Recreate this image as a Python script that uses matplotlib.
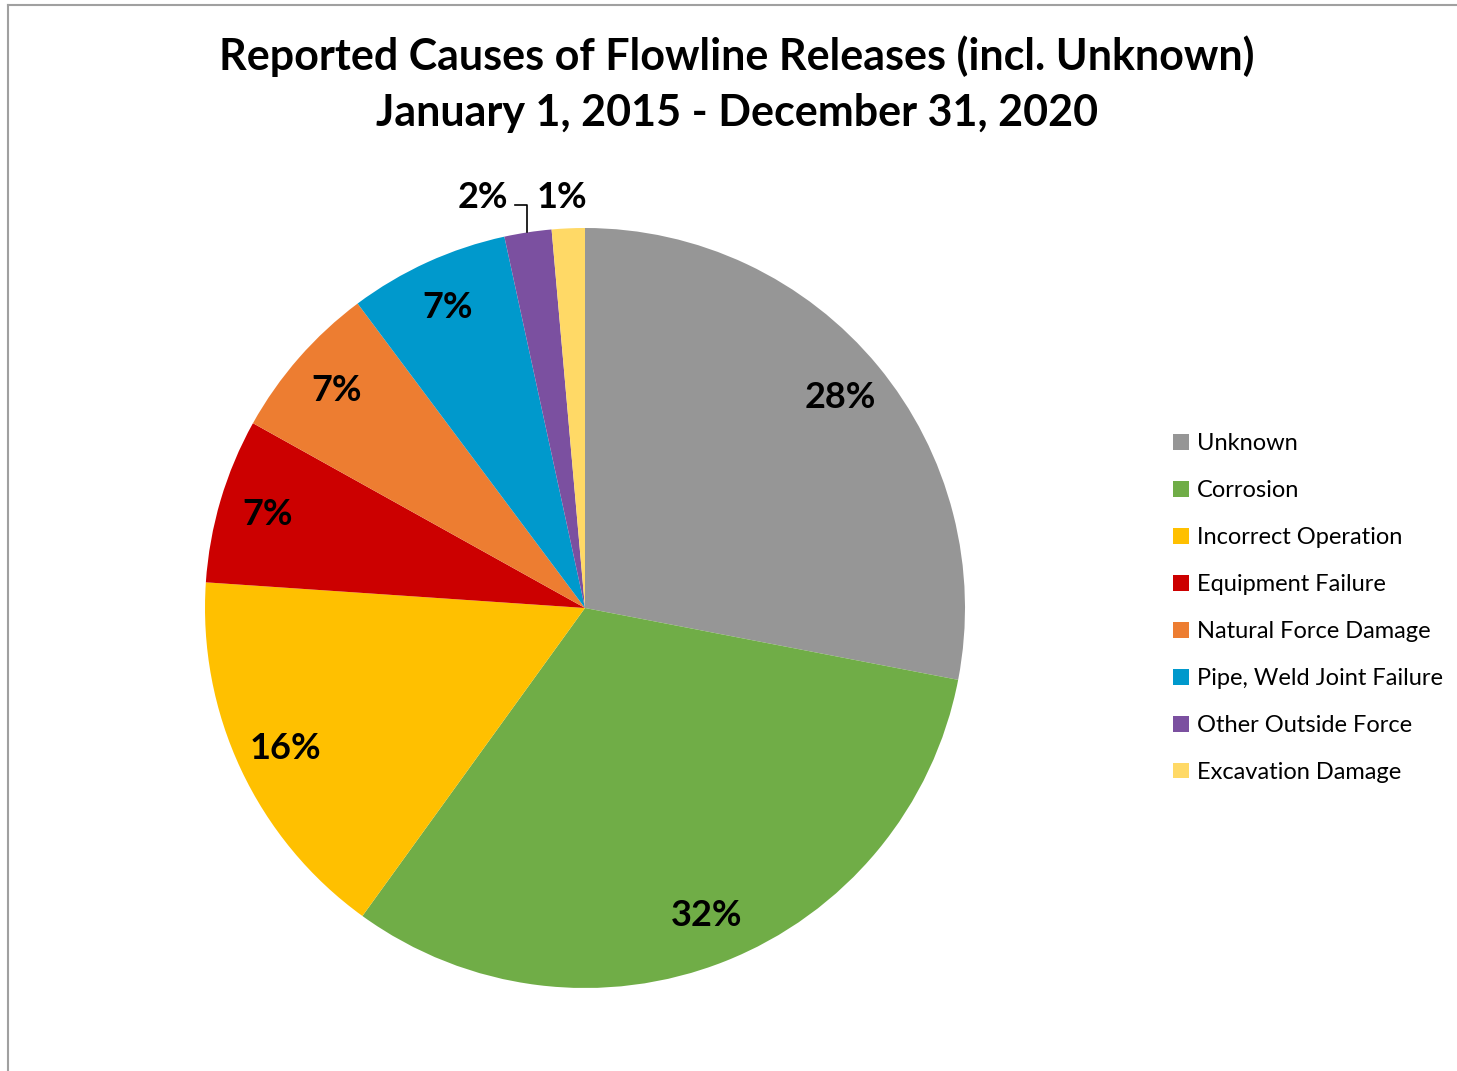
import matplotlib.pyplot as plt
from matplotlib.lines import Line2D
import numpy as np

causes = ["Unknown", "Corrosion", "Incorrect Operation", "Equipment Failure",
          "Natural Force Damage", "Pipe, Weld Joint Failure",
          "Other Outside Force", "Excavation Damage"]
shares = [28.0, 31.9, 16.1, 7.0, 6.7, 6.8, 2.0, 1.4]
colors = ["#969696", "#70ad47", "#ffc000", "#cc0000",
          "#ed7d31", "#0099cc", "#7b50a0", "#ffd966"]
title = "Reported Causes of Flowline Releases (incl. Unknown)\nJanuary 1, 2015 - December 31, 2020"

W, H = 1457, 1071
fig = plt.figure(figsize=(W / 100, H / 100), dpi=100)
plt.rcParams['font.family'] = ['Lato', 'DejaVu Sans']

# frame lines (left and top)
fig.add_artist(Line2D([8 / W, 8 / W], [0, 1 - 5 / H], color="#a0a0a0", lw=1.5))
fig.add_artist(Line2D([8 / W, 1], [1 - 5 / H, 1 - 5 / H], color="#a0a0a0", lw=1.5))

fig.text(737 / W, 1 - 84 / H, title, ha="center", va="center",
         fontsize=31, fontweight="bold", linespacing=1.5)

cx, cy, r = 585, 608, 380
ax = fig.add_axes([(cx - r) / W, 1 - (cy + r) / H, 2 * r / W, 2 * r / H])
wedges, _ = ax.pie(shares, colors=colors, startangle=90, counterclock=False,
                   wedgeprops=dict(linewidth=0))
ax.set_xlim(-1, 1)
ax.set_ylim(-1, 1)
ax.set_aspect("equal")

for i, (w, s) in enumerate(zip(wedges, shares)):
    mid = np.deg2rad((w.theta1 + w.theta2) / 2)
    txt = "%d%%" % round(s)
    if i < 6:
        d = 0.87
        ax.text(d * np.cos(mid), d * np.sin(mid), txt, ha="center", va="center",
                fontsize=26, fontweight="bold")

# small slices labelled outside
ax.text(-0.27, 1.08, "2%", ha="center", va="center", fontsize=26, fontweight="bold", clip_on=False)
ax.text(-0.06, 1.08, "1%", ha="center", va="center", fontsize=26, fontweight="bold", clip_on=False)
ax.plot([-0.184, -0.153, -0.153], [1.06, 1.06, 0.99],
        color="black", lw=1.2, clip_on=False)

leg = fig.legend(wedges, causes, loc="center left", bbox_to_anchor=(1152 / W, 1 - 608 / H),
                 frameon=False, fontsize=17, handlelength=0.65, handleheight=0.65,
                 handletextpad=0.35, labelspacing=1.1)

fig.savefig("out.png", dpi=100)
